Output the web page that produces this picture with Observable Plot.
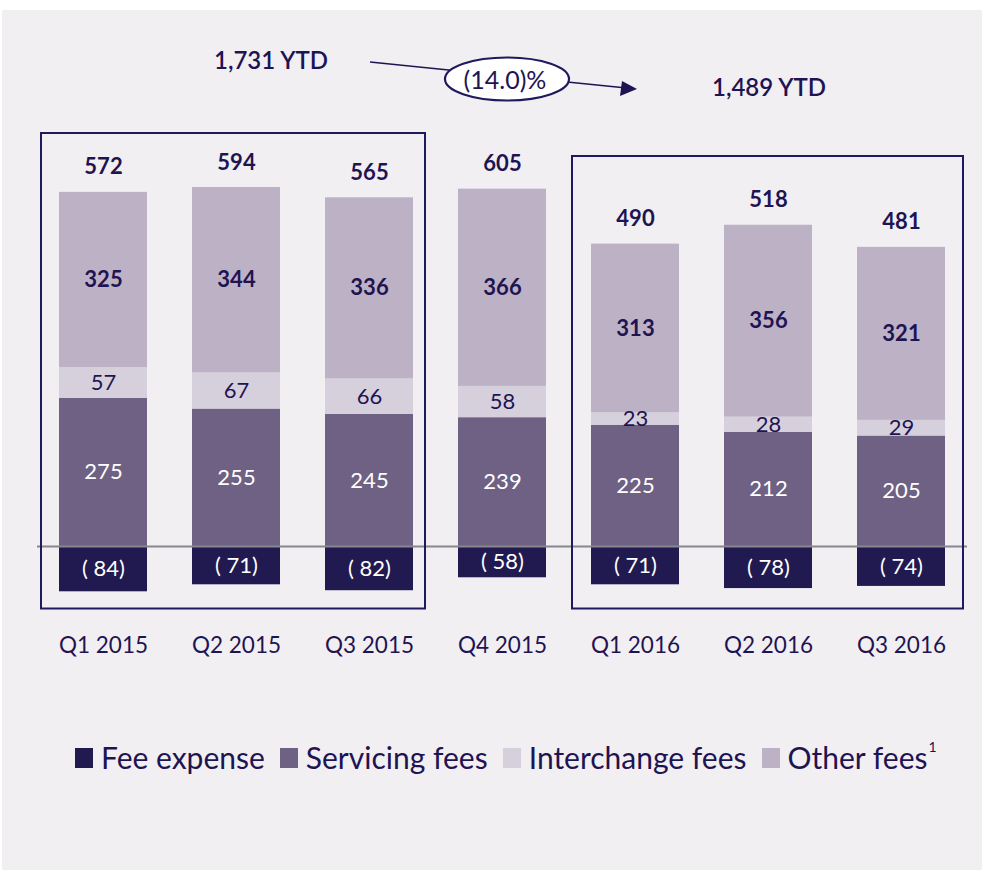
<!DOCTYPE html>
<html>
<head>
<meta charset="utf-8">
<script src="https://cdn.jsdelivr.net/npm/d3@7"></script>
<script src="https://cdn.jsdelivr.net/npm/@observablehq/plot@0.6"></script>
<style>
  html, body { margin: 0; padding: 0; background: #ffffff; }
  #panel { position: relative; margin: 10px 0 0 2px; width: 980px; height: 860px; background: #f1eff2; overflow: hidden; font-family: Lato, sans-serif; }
  #chart svg { display: block; }
  #legend { position: absolute; left: 73px; top: 729px; display: flex; align-items: center; font-size: 30px; color: #1f1452; white-space: nowrap; }
  #legend .sw { display: inline-block; width: 18px; height: 20px; margin-right: 8px; margin-top: 2px; }
  #legend .item { display: flex; align-items: center; margin-right: 15px; }
  #legend sup { font-size: 14px; position: relative; top: -6px; margin-left: 1px; }
</style>
</head>
<body>
<div id="panel">
  <div id="chart"></div>
  <div id="legend"></div>
</div>
<script>
// ---- data ----
const quarters = ["Q1 2015", "Q2 2015", "Q3 2015", "Q4 2015", "Q1 2016", "Q2 2016", "Q3 2016"];
const feeExpense = [84, 71, 82, 58, 71, 78, 74];
const servicingFees = [275, 255, 245, 239, 225, 212, 205];
const interchangeFees = [57, 67, 66, 58, 23, 28, 29];
const otherFees = [325, 344, 336, 366, 313, 356, 321];
const totals = [572, 594, 565, 605, 490, 518, 481];
const seriesNames = ["Fee expense", "Servicing fees", "Interchange fees", "Other fees"];
const seriesColors = ["#211a50", "#6e6183", "#d6d0dd", "#bdb1c6"];
const ytdLabels = ["1,731 YTD", "1,489 YTD"];
const changeLabel = "(14.0)%";
const groupFirst = ["Q1 2015", "Q1 2016"];
const groupLast = ["Q3 2015", "Q3 2016"];

const navy = "#1f1452";

const rows = [];
quarters.forEach((q, i) => {
  rows.push({quarter: q, series: "Fee expense", value: -feeExpense[i]});
  rows.push({quarter: q, series: "Servicing fees", value: servicingFees[i]});
  rows.push({quarter: q, series: "Interchange fees", value: interchangeFees[i]});
  rows.push({quarter: q, series: "Other fees", value: otherFees[i]});
});
const tops = quarters.map((q, i) => ({
  quarter: q,
  top: servicingFees[i] + interchangeFees[i] + otherFees[i],
  total: totals[i]
}));

function segLabels(name, fill, weight, fmt) {
  return Plot.text(rows, Plot.stackY({
    x: "quarter", y: "value", z: "series",
    text: d => d.series === name ? fmt(d.value) : null,
    fill, fontWeight: weight, fontSize: 22, lineAnchor: "middle"
  }));
}

function annotations(index, scales, values, dims) {
  const sx = scales.x;
  const bw = sx.bandwidth ? sx.bandwidth() : 0;
  const g = d3.create("svg:g");
  const padL = [18, 19], padR = [12, 18], boxTop = [123, 146], boxBottom = 598.5;
  for (let k = 0; k < groupFirst.length; k++) {
    const x0 = sx(groupFirst[k]) - padL[k];
    const x1 = sx(groupLast[k]) + bw + padR[k];
    g.append("rect")
      .attr("x", x0).attr("y", boxTop[k])
      .attr("width", x1 - x0).attr("height", boxBottom - boxTop[k])
      .attr("fill", "none").attr("stroke", "#1f1a5e").attr("stroke-width", 2);
  }
  // YTD labels
  g.append("text").attr("x", 269).attr("y", 51).attr("dy", "0.35em")
    .attr("text-anchor", "middle").attr("font-size", 24).attr("font-weight", 600)
    .attr("fill", navy).text(ytdLabels[0]);
  g.append("text").attr("x", 767).attr("y", 78).attr("dy", "0.35em")
    .attr("text-anchor", "middle").attr("font-size", 24).attr("font-weight", 600)
    .attr("fill", navy).text(ytdLabels[1]);
  // arrow line
  g.append("line").attr("x1", 368).attr("y1", 52).attr("x2", 622).attr("y2", 77.7)
    .attr("stroke", navy).attr("stroke-width", 1.5);
  g.append("path")
    .attr("d", "M635,79 L620,71 L618,86 Z")
    .attr("fill", navy);
  g.append("ellipse").attr("cx", 505).attr("cy", 69).attr("rx", 62).attr("ry", 21.5)
    .attr("fill", "#ffffff").attr("stroke", "#1f1a5e").attr("stroke-width", 2.2);
  g.append("text").attr("x", 503).attr("y", 70).attr("dy", "0.35em")
    .attr("text-anchor", "middle").attr("font-size", 25)
    .attr("fill", navy).text(changeLabel);
  return g.node();
}

const plot = Plot.plot({
  width: 980,
  height: 700,
  marginTop: 0,
  marginBottom: 99.3,
  marginLeft: 35,
  marginRight: 15,
  style: {fontFamily: "Lato, sans-serif", background: "transparent", color: navy, fontSize: "22.5px"},
  x: {domain: quarters, paddingInner: 0.34, paddingOuter: 0.166, tickSize: 0, tickPadding: 26, label: null},
  y: {domain: [-120, 994.4], axis: null},
  color: {domain: seriesNames, range: seriesColors},
  marks: [
    Plot.barY(rows, {x: "quarter", y: "value", fill: "series", z: "series"}),
    Plot.ruleY([0], {stroke: "#88868f", strokeWidth: 2}),
    segLabels("Fee expense", "#ffffff", 400, v => `( ${-v})`),
    segLabels("Servicing fees", "#ffffff", 400, v => String(v)),
    segLabels("Interchange fees", navy, 400, v => String(v)),
    segLabels("Other fees", navy, 700, v => String(v)),
    Plot.text(tops, {x: "quarter", y: "top", text: d => String(d.total), dy: -25,
      fill: navy, fontWeight: 700, fontSize: 22, lineAnchor: "middle"}),
    annotations
  ]
});
document.getElementById("chart").appendChild(plot);

// legend
const legend = d3.select("#legend");
seriesNames.forEach((name, i) => {
  const item = legend.append("div").attr("class", "item");
  item.append("span").attr("class", "sw").style("background", seriesColors[i]);
  const t = item.append("span").text(name);
  if (name === "Other fees") t.append("sup").text("1");
});
</script>
</body>
</html>
